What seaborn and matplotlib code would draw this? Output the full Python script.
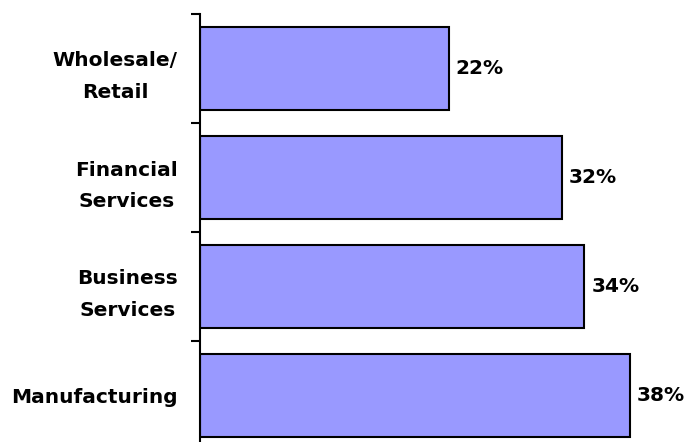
import matplotlib
matplotlib.use("Agg")
import matplotlib.pyplot as plt
import seaborn as sns
import pandas as pd

# data
sectors = ["Wholesale/\nRetail", "Financial\nServices", "Business\nServices", "Manufacturing"]
shares = [22, 32, 34, 38]

df = pd.DataFrame({"sector": sectors, "share": shares})

sns.set_style("white")
plt.rcParams.update({
    "font.family": ["DejaVu Sans"],
    "text.color": "black",
    "ytick.color": "black",
    "xtick.color": "black",
    "axes.labelcolor": "black",
})

fig = plt.figure(figsize=(6.85, 4.42), dpi=100)
ax = fig.add_axes([200 / 685, -8 / 442, 485 / 685, 436 / 442])

sns.barplot(data=df, y="sector", x="share", orient="h", color="#9999ff",
            saturation=1, edgecolor="black", linewidth=1.5, width=0.76, ax=ax)

ax.set_xlim(0, 42.9)
ax.set_ylim(3.5, -0.5)
ax.set_xlabel("")
ax.set_ylabel("")
ax.set_xticks([])

for side in ["top", "right", "bottom"]:
    ax.spines[side].set_visible(False)
ax.spines["left"].set_color("black")
ax.spines["left"].set_linewidth(1.5)

# category labels on major ticks (no tick mark), tick marks between bars
ax.tick_params(axis="y", which="major", length=0, pad=16, labelcolor="black")
ax.set_yticks(range(len(sectors)))
ax.set_yticklabels(sectors, fontsize=14.5, fontweight="bold", color="black",
                   multialignment="center", linespacing=1.85)
ax.set_yticks([i - 0.5 for i in range(len(sectors) + 1)], minor=True)
ax.tick_params(axis="y", which="minor", left=True, length=6.5, width=1.5, color="black")

ax.bar_label(ax.containers[0], labels=[f"{v}%" for v in shares], padding=5,
             fontsize=14.5, fontweight="bold", color="black")

fig.savefig("out.png", dpi=100, facecolor="white")
